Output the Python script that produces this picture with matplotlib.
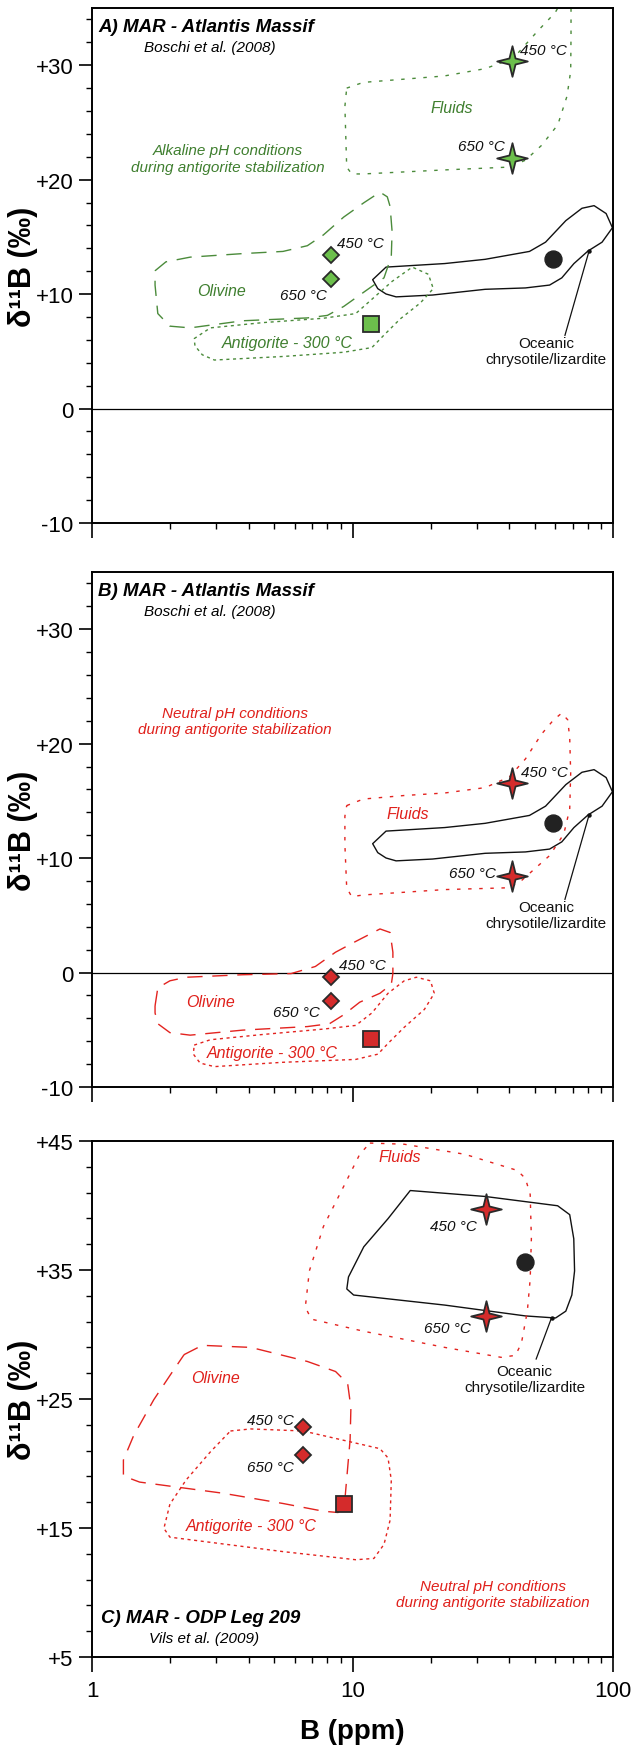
import numpy as np
import matplotlib
matplotlib.use("Agg")
import matplotlib.pyplot as plt
from matplotlib.patches import Polygon
from matplotlib.path import Path
from matplotlib.ticker import FixedLocator, NullFormatter

plt.rcParams['font.family'] = ['Liberation Sans', 'DejaVu Sans']

# ---------------------------------------------------------------- data
# axis ticks
X_MAJOR = [1, 10, 100]
X_MAJOR_LABELS = ['1', '10', '100']
X_MINOR = [2, 3, 4, 5, 6, 7, 8, 9, 20, 30, 40, 50, 60, 70, 80, 90]
Y_TICKS_AB = [-10, 0, 10, 20, 30]
Y_LABELS_AB = ['-10', '0', '+10', '+20', '+30']
Y_MINOR_AB = list(range(-10, 36, 2))
Y_TICKS_C = [5, 15, 25, 35, 45]
Y_LABELS_C = ['+5', '+15', '+25', '+35', '+45']
Y_MINOR_C = list(range(5, 46, 2))

# point data (B ppm, d11B permil)
A_STAR_B = [41.1, 41.1];  A_STAR_D = [30.4, 21.9]
A_DIAM_B = [8.25, 8.25];  A_DIAM_D = [13.4, 11.3]
A_SQ_B = [11.8];          A_SQ_D = [7.4]
A_CIRC_B = [58.7];        A_CIRC_D = [13.1]

B_STAR_B = [41.1, 41.1];  B_STAR_D = [16.6, 8.4]
B_DIAM_B = [8.25, 8.25];  B_DIAM_D = [-0.4, -2.5]
B_SQ_B = [11.8];          B_SQ_D = [-5.8]
B_CIRC_B = [58.7];        B_CIRC_D = [13.1]

C_STAR_B = [32.5, 32.5];  C_STAR_D = [39.7, 31.4]
C_DIAM_B = [6.47, 6.47];  C_DIAM_D = [22.8, 20.65]
C_SQ_B = [9.25];          C_SQ_D = [16.85]
C_CIRC_B = [46.1];        C_CIRC_D = [35.65]

# field outlines (B ppm, d11B permil)
OCEANIC_AB = [(11.95, 11.26), (13.45, 12.36), (22.6, 12.67), (32.3, 13.04), (47.8, 13.73),
              (55.1, 14.54), (65.9, 16.42), (76.0, 17.5), (84.6, 17.73), (94.1, 17.04),
              (99.5, 15.8), (90.8, 14.54), (80.1, 13.76), (70.8, 12.67), (63.6, 11.42),
              (57.1, 10.79), (46.1, 10.54), (32.3, 10.42), (20.3, 9.92), (14.7, 9.76),
              (13.45, 10.01), (12.5, 10.48)]
A_FLUIDS = [(9.5, 28.0), (11.0, 28.5), (22.5, 29.06), (32.3, 29.7), (41.4, 30.6), (51.3, 32.97),
            (60.0, 34.6), (65.0, 36.0), (69.0, 35.5), (69.0, 32.65), (68.8, 29.5), (66.6, 27.3),
            (61.4, 24.8), (53.2, 23.0), (46.1, 21.7), (40.0, 21.1), (22.5, 20.85), (11.0, 20.5),
            (9.93, 20.5), (9.5, 21.1), (9.35, 26.4)]
A_OLIVINE = [(1.746, 12.04), (1.922, 12.82), (2.381, 13.23), (3.788, 13.54), (5.41, 13.73),
             (6.71, 14.23), (7.73, 15.17), (9.25, 16.73), (11.05, 17.98), (12.75, 18.91),
             (13.6, 18.5), (13.94, 17.66), (14.19, 15.48), (14.09, 13.29), (13.21, 11.42),
             (11.05, 10.17), (9.25, 8.92), (8.01, 8.14), (6.71, 7.92), (3.788, 7.67),
             (2.381, 7.05), (1.991, 7.20), (1.789, 8.30), (1.746, 10.79)]
A_ANTIGORITE = [(2.467, 6.11), (2.847, 7.05), (4.53, 7.51), (7.73, 7.89), (10.29, 8.30),
                (12.3, 9.86), (14.19, 11.11), (16.96, 12.36), (19.56, 11.73), (20.42, 10.48),
                (18.22, 9.23), (15.24, 7.83), (13.21, 6.42), (11.87, 5.33), (9.25, 4.92),
                (5.41, 4.55), (2.95, 4.24), (2.65, 4.70), (2.485, 5.48)]
B_FLUIDS = [(9.5, 14.59), (11.0, 15.16), (15.8, 15.47), (22.6, 15.69), (32.3, 16.16),
            (40.0, 17.09), (46.1, 18.66), (53.2, 20.84), (59.2, 22.09), (63.5, 22.66),
            (67.0, 22.09), (68.2, 20.53), (68.8, 17.41), (68.2, 14.28), (64.7, 12.09),
            (57.1, 10.22), (49.5, 8.97), (44.5, 8.03), (40.0, 7.41), (22.6, 7.25), (11.0, 6.78),
            (9.93, 6.63), (9.5, 7.41), (9.35, 11.16), (9.35, 13.66)]
B_OLIVINE = [(1.746, -2.91), (1.789, -1.34), (1.991, -0.72), (2.30, -0.41), (3.788, -0.19),
             (5.81, -0.09), (7.20, 0.53), (8.61, 1.78), (10.29, 2.72), (12.75, 3.81),
             (13.94, 3.50), (14.29, 1.78), (14.29, -0.09), (14.09, -1.03), (12.75, -1.81),
             (10.66, -2.59), (9.25, -3.69), (8.16, -4.47), (6.71, -4.72), (3.788, -5.03),
             (2.381, -5.47), (1.991, -5.25), (1.789, -4.47), (1.746, -3.53)]
B_ANTIGORITE = [(2.467, -6.34), (2.847, -5.87), (4.53, -5.41), (7.73, -4.94), (10.29, -4.62),
                (11.87, -3.53), (13.69, -1.81), (15.8, -0.72), (17.58, -0.41), (19.92, -0.72),
                (20.6, -1.81), (18.88, -3.22), (15.8, -4.78), (13.69, -6.19), (12.52, -7.13),
                (10.29, -7.59), (5.41, -7.84), (2.95, -8.22), (2.60, -7.91), (2.45, -7.13)]
C_OCEANIC = [(16.66, 41.16), (32.3, 40.70), (61.3, 39.98), (68.2, 39.29), (70.7, 37.42),
             (71.2, 34.93), (69.5, 33.06), (65.9, 31.81), (60.2, 31.28), (46.1, 31.44),
             (22.6, 32.28), (10.1, 33.06), (9.51, 33.53), (9.65, 34.46), (11.05, 36.8),
             (13.69, 38.98)]
C_FLUIDS = [(11.66, 44.84), (15.8, 44.75), (27.0, 43.97), (42.9, 42.72), (46.1, 42.1),
            (48.1, 40.85), (48.6, 37.42), (48.1, 34.3), (46.9, 31.81), (44.5, 29.32),
            (42.2, 28.38), (37.2, 28.23), (22.6, 29.0), (11.05, 30.25), (6.95, 31.19),
            (6.59, 32.12), (6.83, 34.93), (7.73, 38.36), (9.25, 41.48), (10.66, 43.97)]
C_OLIVINE = [(2.257, 28.44), (2.65, 29.16), (4.07, 29.0), (6.71, 27.91), (8.61, 27.13),
             (9.58, 26.2), (9.86, 24.33), (9.79, 21.83), (9.58, 19.65), (9.35, 17.2),
             (8.8, 16.2), (7.73, 16.3), (5.41, 16.9), (3.17, 17.7), (1.523, 18.56),
             (1.32, 19.03), (1.32, 20.27), (1.444, 22.15), (1.727, 24.95), (1.991, 26.82)]
C_ANTIGORITE = [(3.40, 22.52), (4.07, 22.68), (6.47, 22.52), (12.75, 21.15), (13.69, 20.43),
                (14.09, 18.72), (13.94, 15.6), (13.21, 13.73), (12.08, 12.64), (10.29, 12.54),
                (5.41, 13.17), (1.991, 14.29), (1.888, 14.97), (1.991, 16.85), (2.297, 18.72),
                (2.847, 20.9)]

POINTER_AB_B = [65.4, 81.0]; POINTER_AB_D = [6.4, 13.8]
POINTER_C_B = [50.7, 58.1];  POINTER_C_D = [28.1, 31.3]

# ---------------------------------------------------------------- style
GREEN_LINE = '#4b8b3b'
GREEN_TEXT = '#3f7f2f'
GREEN_FILL = '#6cbf4c'
RED_LINE = '#e3231f'
RED_TEXT = '#e0201b'
RED_FILL = '#d42b2b'
EDGE = '#2a2a2a'
DOT_FLUID = (0, (2.5, 5.5))
DOT_ANTIG = (0, (2.2, 2.6))
DASH_OLIV = (0, (11, 7))

STAR = Path.unit_regular_star(4, 0.28)

W, H = 634, 1749
fig = plt.figure(figsize=(W / 100, H / 100), dpi=100)
L = 92 / W
WID = 521 / W


def make_ax(top, bottom):
    return fig.add_axes([L, 1 - bottom / H, WID, (bottom - top) / H])


def style_axes(ax, ylim, yt, yl, ym, show_x):
    ax.set_xscale('log')
    ax.set_xlim(1, 100)
    ax.set_ylim(*ylim)
    ax.xaxis.set_major_locator(FixedLocator(X_MAJOR))
    ax.xaxis.set_minor_locator(FixedLocator(X_MINOR))
    ax.xaxis.set_minor_formatter(NullFormatter())
    if show_x:
        ax.set_xticklabels(X_MAJOR_LABELS)
    else:
        ax.xaxis.set_major_formatter(NullFormatter())
    ax.set_yticks(yt)
    ax.set_yticklabels(yl)
    ax.yaxis.set_minor_locator(FixedLocator(ym))
    ax.tick_params(axis='x', which='major', direction='out', length=10.8, width=1.2,
                   labelsize=16, pad=6)
    ax.tick_params(axis='x', which='minor', direction='out', length=4.3, width=1.0)
    ax.tick_params(axis='y', which='major', direction='out', length=9.4, width=1.2,
                   labelsize=16, pad=4)
    ax.tick_params(axis='y', which='minor', direction='out', length=4.3, width=1.0)
    for s in ax.spines.values():
        s.set_linewidth(1.4)
    ax.set_ylabel('δ¹¹B (‰)', fontsize=22, fontweight='bold', va='center')
    ax.yaxis.set_label_coords(-0.133, 0.5)


def outline(ax, pts, color, ls, lw=1.0):
    ax.add_patch(Polygon(pts, closed=True, fill=False, edgecolor=color, linestyle=ls,
                         linewidth=lw, joinstyle='round', capstyle='butt', zorder=2))


def markers(ax, sb, sd, db, dd, qb, qd, cb, cd, fill):
    ax.plot(cb, cd, ls='none', marker='o', ms=12.2, mfc='#222222', mec='#222222', zorder=5)
    ax.plot(sb, sd, ls='none', marker=STAR, ms=22, mfc=fill, mec=EDGE, mew=1.3, zorder=6)
    ax.plot(db, dd, ls='none', marker='D', ms=8.2, mfc=fill, mec=EDGE, mew=1.3, zorder=6)
    ax.plot(qb, qd, ls='none', marker='s', ms=11.5, mfc=fill, mec=EDGE, mew=1.3, zorder=6)


def pointer(ax, pb, pd):
    ax.plot(pb, pd, color='#111111', lw=0.9, zorder=3)
    ax.plot(pb[1:], pd[1:], ls='none', marker='o', ms=2.2, color='#111111', zorder=3)


TK = dict(fontsize=11, style='italic', color='#111111')

# ---------------------------------------------------------------- panel A
axA = make_ax(9, 524)
style_axes(axA, (-10, 35), Y_TICKS_AB, Y_LABELS_AB, Y_MINOR_AB, False)
axA.axhline(0, color='black', lw=0.9, zorder=1)
outline(axA, OCEANIC_AB, '#111111', '-', 1.0)
outline(axA, A_FLUIDS, GREEN_LINE, DOT_FLUID)
outline(axA, A_OLIVINE, GREEN_LINE, DASH_OLIV)
outline(axA, A_ANTIGORITE, GREEN_LINE, DOT_ANTIG)
pointer(axA, POINTER_AB_B, POINTER_AB_D)
markers(axA, A_STAR_B, A_STAR_D, A_DIAM_B, A_DIAM_D, A_SQ_B, A_SQ_D, A_CIRC_B, A_CIRC_D, GREEN_FILL)
axA.text(0.012, 0.964, 'A) MAR - Atlantis Massif', transform=axA.transAxes, fontsize=13.5,
         fontweight='bold', style='italic', ha='left', va='center')
axA.text(0.227, 0.925, 'Boschi et al. (2008)', transform=axA.transAxes, fontsize=11,
         style='italic', ha='center', va='center')
axA.text(3.31, 21.85, 'Alkaline pH conditions\nduring antigorite stabilization', fontsize=11,
         style='italic', color=GREEN_TEXT, ha='center', va='center')
axA.text(24.1, 26.3, 'Fluids', fontsize=11.5, style='italic', color=GREEN_TEXT, ha='center', va='center')
axA.text(3.15, 10.3, 'Olivine', fontsize=11.5, style='italic', color=GREEN_TEXT, ha='center', va='center')
axA.text(5.61, 5.8, 'Antigorite - 300 °C', fontsize=11.5, style='italic', color=GREEN_TEXT,
         ha='center', va='center')
axA.text(8.7, 14.5, '450 °C', ha='left', va='center', **TK)
axA.text(7.96, 9.9, '650 °C', ha='right', va='center', **TK)
axA.text(44.0, 31.3, '450 °C', ha='left', va='center', **TK)
axA.text(38.3, 22.9, '650 °C', ha='right', va='center', **TK)
axA.text(55.5, 5.0, 'Oceanic\nchrysotile/lizardite', fontsize=11, color='#111111',
         ha='center', va='center')

# ---------------------------------------------------------------- panel B
axB = make_ax(573, 1088)
style_axes(axB, (-10, 35), Y_TICKS_AB, Y_LABELS_AB, Y_MINOR_AB, False)
axB.axhline(0, color='black', lw=0.9, zorder=1)
outline(axB, OCEANIC_AB, '#111111', '-', 1.0)
outline(axB, B_FLUIDS, RED_LINE, DOT_FLUID)
outline(axB, B_OLIVINE, RED_LINE, DASH_OLIV)
outline(axB, B_ANTIGORITE, RED_LINE, DOT_ANTIG)
pointer(axB, POINTER_AB_B, POINTER_AB_D)
markers(axB, B_STAR_B, B_STAR_D, B_DIAM_B, B_DIAM_D, B_SQ_B, B_SQ_D, B_CIRC_B, B_CIRC_D, RED_FILL)
axB.text(0.012, 0.964, 'B) MAR - Atlantis Massif', transform=axB.transAxes, fontsize=13.5,
         fontweight='bold', style='italic', ha='left', va='center')
axB.text(0.227, 0.925, 'Boschi et al. (2008)', transform=axB.transAxes, fontsize=11,
         style='italic', ha='center', va='center')
axB.text(3.53, 21.95, 'Neutral pH conditions\nduring antigorite stabilization', fontsize=11,
         style='italic', color=RED_TEXT, ha='center', va='center')
axB.text(16.3, 13.9, 'Fluids', fontsize=11.5, style='italic', color=RED_TEXT, ha='center', va='center')
axB.text(2.85, -2.53, 'Olivine', fontsize=11.5, style='italic', color=RED_TEXT, ha='center', va='center')
axB.text(4.9, -6.97, 'Antigorite - 300 °C', fontsize=11.5, style='italic', color=RED_TEXT,
         ha='center', va='center')
axB.text(8.86, 0.69, '450 °C', ha='left', va='center', **TK)
axB.text(7.51, -3.47, '650 °C', ha='right', va='center', **TK)
axB.text(44.5, 17.5, '450 °C', ha='left', va='center', **TK)
axB.text(35.6, 8.66, '650 °C', ha='right', va='center', **TK)
axB.text(55.5, 5.0, 'Oceanic\nchrysotile/lizardite', fontsize=11, color='#111111',
         ha='center', va='center')

# ---------------------------------------------------------------- panel C
axC = make_ax(1142, 1658)
style_axes(axC, (5, 45), Y_TICKS_C, Y_LABELS_C, Y_MINOR_C, True)
outline(axC, C_OCEANIC, '#111111', '-', 1.0)
outline(axC, C_FLUIDS, RED_LINE, DOT_FLUID)
outline(axC, C_OLIVINE, RED_LINE, DASH_OLIV)
outline(axC, C_ANTIGORITE, RED_LINE, DOT_ANTIG)
pointer(axC, POINTER_C_B, POINTER_C_D)
markers(axC, C_STAR_B, C_STAR_D, C_DIAM_B, C_DIAM_D, C_SQ_B, C_SQ_D, C_CIRC_B, C_CIRC_D, RED_FILL)
axC.text(0.018, 0.076, 'C) MAR - ODP Leg 209', transform=axC.transAxes, fontsize=13.5,
         fontweight='bold', style='italic', ha='left', va='center')
axC.text(0.2155, 0.0375, 'Vils et al. (2009)', transform=axC.transAxes, fontsize=11,
         style='italic', ha='center', va='center')
axC.text(0.77, 0.122, 'Neutral pH conditions\nduring antigorite stabilization', transform=axC.transAxes,
         fontsize=11, style='italic', color=RED_TEXT, ha='center', va='center')
axC.text(15.24, 43.8, 'Fluids', fontsize=11.5, style='italic', color=RED_TEXT, ha='center', va='center')
axC.text(2.97, 26.67, 'Olivine', fontsize=11.5, style='italic', color=RED_TEXT, ha='center', va='center')
axC.text(4.07, 15.22, 'Antigorite - 300 °C', fontsize=11.5, style='italic', color=RED_TEXT,
         ha='center', va='center')
axC.text(5.98, 23.39, '450 °C', ha='right', va='center', **TK)
axC.text(5.93, 19.71, '650 °C', ha='right', va='center', **TK)
axC.text(24.3, 38.42, '450 °C', ha='center', va='center', **TK)
axC.text(23.1, 30.5, '650 °C', ha='center', va='center', **TK)
axC.text(45.8, 26.57, 'Oceanic\nchrysotile/lizardite', fontsize=11, color='#111111',
         ha='center', va='center')
axC.set_xlabel('B (ppm)', fontsize=20, fontweight='bold', va='center')
axC.xaxis.set_label_coords(0.5, -0.143)

fig.savefig('out.png', dpi=100)
